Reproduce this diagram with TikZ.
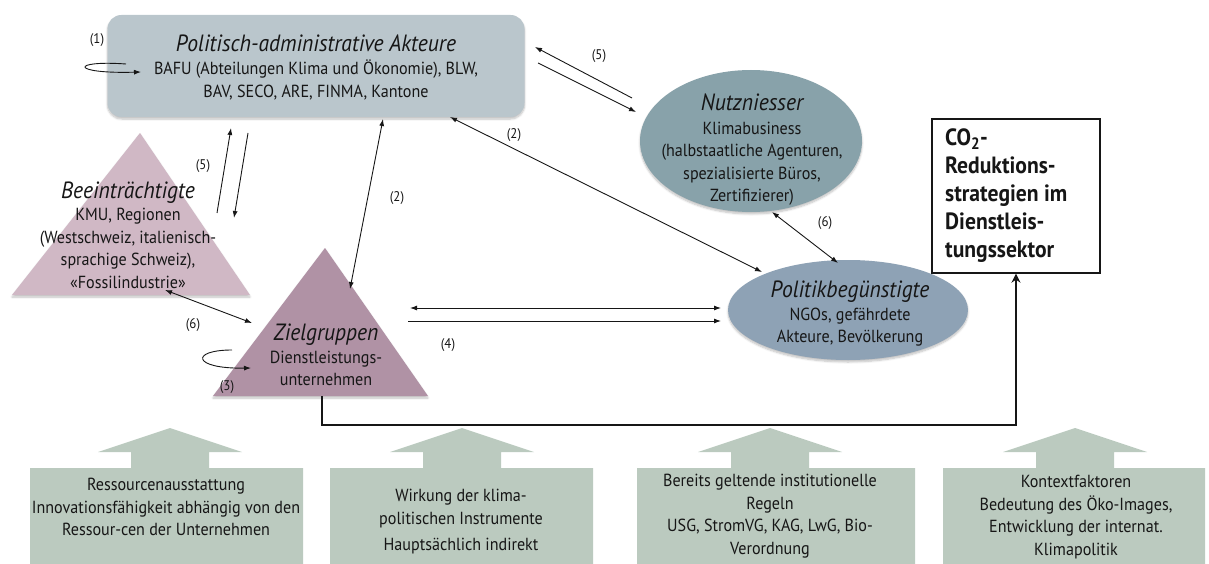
\documentclass[tikz,border=0pt]{standalone}
\usepackage{fontspec}
\setmainfont{PT Sans}[FakeStretch=0.92]
\usetikzlibrary{arrows.meta,shapes.geometric,shadows.blur}
\definecolor{boxgray}{HTML}{BAC6CC}
\definecolor{nutz}{HTML}{88A2AA}
\definecolor{polb}{HTML}{8EA2B5}
\definecolor{beein}{HTML}{D0B8C5}
\definecolor{ziel}{HTML}{B092A5}
\definecolor{sage}{HTML}{BBCABF}
\definecolor{ink}{HTML}{161616}
\tikzset{
  arr/.style={-{Latex[length=7pt,width=5pt]}, line width=0.9pt, draw=ink},
  darr/.style={{Latex[length=7pt,width=5pt]}-{Latex[length=7pt,width=5pt]}, line width=0.9pt, draw=ink},
  lbl/.style={font=\fontsize{14}{16}\selectfont, text=ink, inner sep=0pt},
  body/.style={font=\fontsize{17.5}{22.5}\selectfont, text=ink, align=center, inner sep=0pt},
  soft/.style={blur shadow={shadow blur steps=6, shadow xshift=0pt, shadow yshift=-2pt, shadow opacity=25}},
}
\newcommand{\ttlfont}{\itshape\fontsize{23.5}{25}\selectfont}
\begin{document}
\begin{tikzpicture}[x=1pt,y=-1pt]
\useasboundingbox (0,0) rectangle (1209,564);

% ---------- bottom factor arrows ----------
\foreach \l/\r/\c in {30/303/170, 330/593/462, 637/915/770, 943/1205/1075}{
  \fill[sage] (\l,564) -- (\l,468) -- (\c-39,468) -- (\c-39,452) -- (\c-72,452) -- (\c,428)
     -- (\c+72,452) -- (\c+39,452) -- (\c+39,468) -- (\r,468) -- (\r,564) -- cycle;
}
\node[body] (f1) at (166,507) {Ressourcenausstattung\\Innovationsfähigkeit abhängig von den\\Ressour-cen der Unternehmen};
\node[body] (f2) at (461,522) {Wirkung der klima-\\politischen Instrumente\\[4pt]Hauptsächlich indirekt};
\node[body] (f3) at (770,516) {Bereits geltende institutionelle\\Regeln\\USG, StromVG, KAG, LwG, Bio-\\Verordnung};
\node[body] (f4) at (1076,517) {Kontextfaktoren\\Bedeutung des Öko-Images,\\Entwicklung der internat.\\Klimapolitik};

% ---------- top box ----------
\node[fill=boxgray, rounded corners=14pt, minimum width=417pt, minimum height=102pt, soft] (pa) at (316,66) {};
\node[body] (pat) at (316,67) {{\ttlfont Politisch-administrative Akteure}\\[1pt]BAFU (Abteilungen Klima und Ökonomie), BLW,\\BAV, SECO, ARE, FINMA, Kantone};

% ---------- ellipses ----------
\node[ellipse, fill=nutz, minimum width=222pt, minimum height=142pt, soft] (nu) at (751,141) {};
\node[body] (nut) at (752,150) {{\ttlfont Nutzniesser}\\[1pt]Klimabusiness\\(halbstaatliche Agenturen,\\spezialisierte Büros,\\Zertifizierer)};
\node[ellipse, fill=polb, minimum width=240pt, minimum height=100pt, soft] (pb) at (848,310) {};
\node[body] (pbt) at (850,314) {{\ttlfont Politikbegünstigte}\\NGOs, gefährdete\\Akteure, Bevölkerung};

% ---------- triangles ----------
\coordinate (bA) at (140,133); \coordinate (bL) at (12,295); \coordinate (bR) at (250,295);
\fill[beein, soft] (bA) -- (bR) -- (bL) -- cycle;
\node[body] (bt) at (128,235) {{\ttlfont Beeinträchtigte}\\KMU, Regionen\\(Westschweiz, italienisch-\\sprachige Schweiz),\\«Fossilindustrie»};
\coordinate (zA) at (325,248); \coordinate (zL) at (213,396); \coordinate (zR) at (428,396);
\fill[ziel, soft] (zA) -- (zR) -- (zL) -- cycle;
\node[body] (zt) at (326,355) {{\ttlfont Zielgruppen}\\Dienstleistungs-\\unternehmen};

% ---------- CO2 box ----------
\node[draw=ink, line width=1.4pt, fill=white, minimum width=168pt, minimum height=154pt, inner sep=0pt] (co) at (1016,196) {};
\node[anchor=north west, align=left, inner sep=0pt, text=ink, font=\bfseries\fontsize{23.5}{28}\selectfont] (cot) at (945,129) {CO\textsubscript{2}-\\Reduktions-\\strategien im\\Dienstleis-\\tungssektor};

% ---------- connectors ----------
% (1) loop
\coordinate (l1a) at (126,64); \coordinate (l1b) at (141,72);
\draw[arr] (l1a) .. controls (70,60) and (70,74) .. (l1b);
\node[lbl] (n1) at (97,40) {(1)};
% (5) left pair
\coordinate (p5a) at (217,213); \coordinate (p5b) at (231,128);
\coordinate (p5c) at (248,133); \coordinate (p5d) at (234,218);
\draw[arr] (p5a) -- (p5b);
\draw[arr] (p5c) -- (p5d);
\node[lbl] (n5l) at (203,166) {(5)};
% (2) vertical
\coordinate (v2a) at (383,119); \coordinate (v2b) at (350,289);
\draw[darr] (v2a) -- (v2b);
\node[lbl] (n2a) at (397,198) {(2)};
% (2) diagonal
\coordinate (d2a) at (450,117); \coordinate (d2b) at (762,272);
\draw[darr] (d2a) -- (d2b);
\node[lbl] (n2b) at (514,135) {(2)};
% (5) right pair
\coordinate (q5a) at (632,98); \coordinate (q5b) at (535,47);
\coordinate (q5c) at (538,63); \coordinate (q5d) at (636,112);
\draw[arr] (q5a) -- (q5b);
\draw[arr] (q5c) -- (q5d);
\node[lbl] (n5r) at (599,56) {(5)};
% (6) right
\coordinate (r6a) at (772,212); \coordinate (r6b) at (838,263);
\draw[darr] (r6a) -- (r6b);
\node[lbl] (n6r) at (825,223) {(6)};
% (4)
\coordinate (h4a) at (410,308); \coordinate (h4b) at (721,308);
\coordinate (h4c) at (408,321); \coordinate (h4d) at (721,321);
\draw[darr] (h4a) -- (h4b);
\draw[arr] (h4c) -- (h4d);
\node[lbl] (n4) at (448,345) {(4)};
% (6) left
\coordinate (l6a) at (165,290); \coordinate (l6b) at (252,323);
\draw[darr] (l6a) -- (l6b);
\node[lbl] (n6l) at (193,325) {(6)};
% (3) loop
\coordinate (l3a) at (232,350); \coordinate (l3b) at (251,368);
\draw[arr] (l3a) .. controls (190,350) and (192,369) .. (l3b);
\node[lbl] (n3) at (227,387) {(3)};
% Zielgruppen -> CO2 box
\coordinate (zb) at (322,396);
\draw[line width=1.2pt, draw=ink, -{Stealth[length=9pt,width=9pt,inset=3pt]}] (zb) |- (co.south |- 0,425) -- (co.south);
\end{tikzpicture}
\end{document}
